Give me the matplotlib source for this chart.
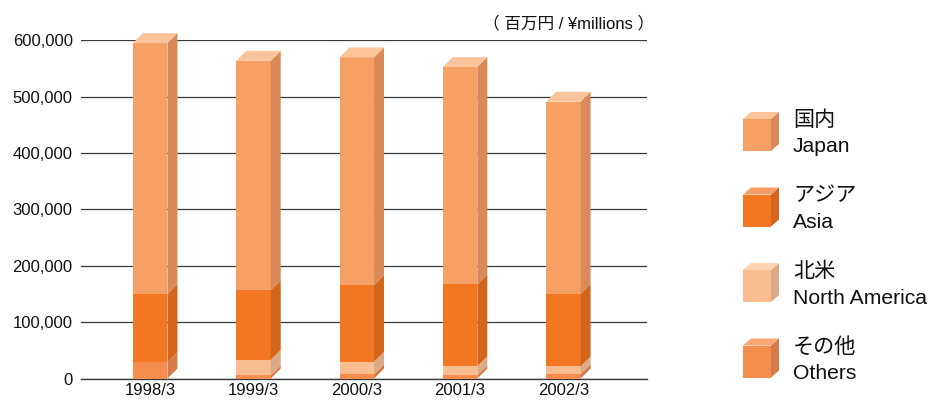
import matplotlib
matplotlib.use('Agg')
import matplotlib.pyplot as plt
from matplotlib.patches import Polygon, Rectangle
from matplotlib.ticker import FuncFormatter
import numpy as np

plt.rcParams['font.family'] = ['Liberation Sans', 'Noto Sans CJK JP']

periods = ['1998/3', '1999/3', '2000/3', '2001/3', '2002/3']
others = [29000, 6000, 7500, 6000, 8000]
north_america = [0, 27500, 22000, 16000, 13500]
asia = [121000, 123500, 136500, 145000, 128500]
japan = [445000, 406500, 403500, 385500, 341000]

labels_jp = ['国内', 'アジア', '北米', 'その他']
labels_en = ['Japan', 'Asia', 'North America', 'Others']

# (front, side, top) colours per series
col_japan = ('#F7A066', '#D98A58', '#FBC49B')
col_asia = ('#F27722', '#D3661C', '#F59D64')
col_na = ('#FABD90', '#DDAA86', '#FDD3B3')
col_others = ('#F58D4E', '#D67A48', '#F8A672')

# stack from bottom
stack = [(others, col_others), (north_america, col_na), (asia, col_asia), (japan, col_japan)]

fig = plt.figure(figsize=(9.35, 4.0), dpi=100)
ax = fig.add_axes([81 / 935, (400 - 378.6) / 400, (647 - 81) / 935, (378.6 - 40.3) / 400])

x = np.arange(len(periods))
width = 0.334
ax.set_xlim(-0.67, 4.81)
ax.set_ylim(0, 600000)

# depth of the 3d blocks in data units (10 px)
ax_w = (647 - 81)
ax_h = (378.6 - 40.3)
dx = 10 * (4.81 + 0.67) / ax_w
dy = 10 * 600000 / ax_h

bottom = np.zeros(len(periods))
for k, (vals, cols) in enumerate(stack):
    vals = np.array(vals, dtype=float)
    ax.bar(x, vals, width, bottom=bottom, color=cols[0], zorder=3, linewidth=0)
    for i in range(len(x)):
        if vals[i] <= 0:
            continue
        xr = x[i] + width / 2
        y0 = bottom[i]
        y1 = bottom[i] + vals[i]
        side = Polygon([(xr, y0), (xr + dx, y0 + dy), (xr + dx, y1 + dy), (xr, y1)],
                       closed=True, facecolor=cols[1], edgecolor='none', zorder=3, clip_on=False)
        ax.add_patch(side)
        if k == len(stack) - 1:
            xl = x[i] - width / 2
            top = Polygon([(xl, y1), (xr, y1), (xr + dx, y1 + dy), (xl + dx, y1 + dy)],
                          closed=True, facecolor=cols[2], edgecolor='none', zorder=3, clip_on=False)
            ax.add_patch(top)
    bottom = bottom + vals

ax.set_yticks(np.arange(0, 600001, 100000))
ax.yaxis.set_major_formatter(FuncFormatter(lambda v, p: f'{int(v):,}'))
ax.grid(axis='y', color='#3a3a3a', linewidth=0.9, zorder=0)
ax.axhline(0, color='#3a3a3a', linewidth=1.0, zorder=2, clip_on=False)
ax.set_axisbelow(True)
ax.set_xticks(x)
ax.set_xticklabels(periods)
ax.tick_params(axis='both', length=0, labelsize=12, colors='#111111')
ax.tick_params(axis='y', pad=6)
ax.tick_params(axis='x', pad=3)
for s in ax.spines.values():
    s.set_visible(False)

fig.text(654 / 935, 1 - 23 / 400, '（ 百万円 / ¥millions ）', ha='right', va='center',
         fontsize=12, color='#111111')

# legend drawn as small cubes
lax = fig.add_axes([0, 0, 1, 1], zorder=5)
lax.set_xlim(0, 935)
lax.set_ylim(400, 0)
lax.axis('off')
leg_cols = [col_japan, col_asia, col_na, col_others]
cx, cw, ch, cd = 743, 28, 32, 8
for j in range(4):
    cy = 119 + j * 75.5
    fr, sd, tp = leg_cols[j]
    lax.add_patch(Rectangle((cx, cy), cw, ch, facecolor=fr, edgecolor='none'))
    lax.add_patch(Polygon([(cx + cw, cy), (cx + cw + cd, cy - cd + 1), (cx + cw + cd, cy + ch - cd + 1), (cx + cw, cy + ch)],
                          closed=True, facecolor=sd, edgecolor='none'))
    lax.add_patch(Polygon([(cx, cy), (cx + cw, cy), (cx + cw + cd, cy - cd + 1), (cx + cd, cy - cd + 1)],
                          closed=True, facecolor=tp, edgecolor='none'))
    lax.text(793, cy + 1, labels_jp[j], fontsize=15.2, va='center', ha='left', color='#111111')
    lax.text(793, cy + 28, labels_en[j], fontsize=15.2, va='center', ha='left', color='#111111')

fig.savefig('out.png', dpi=100)
